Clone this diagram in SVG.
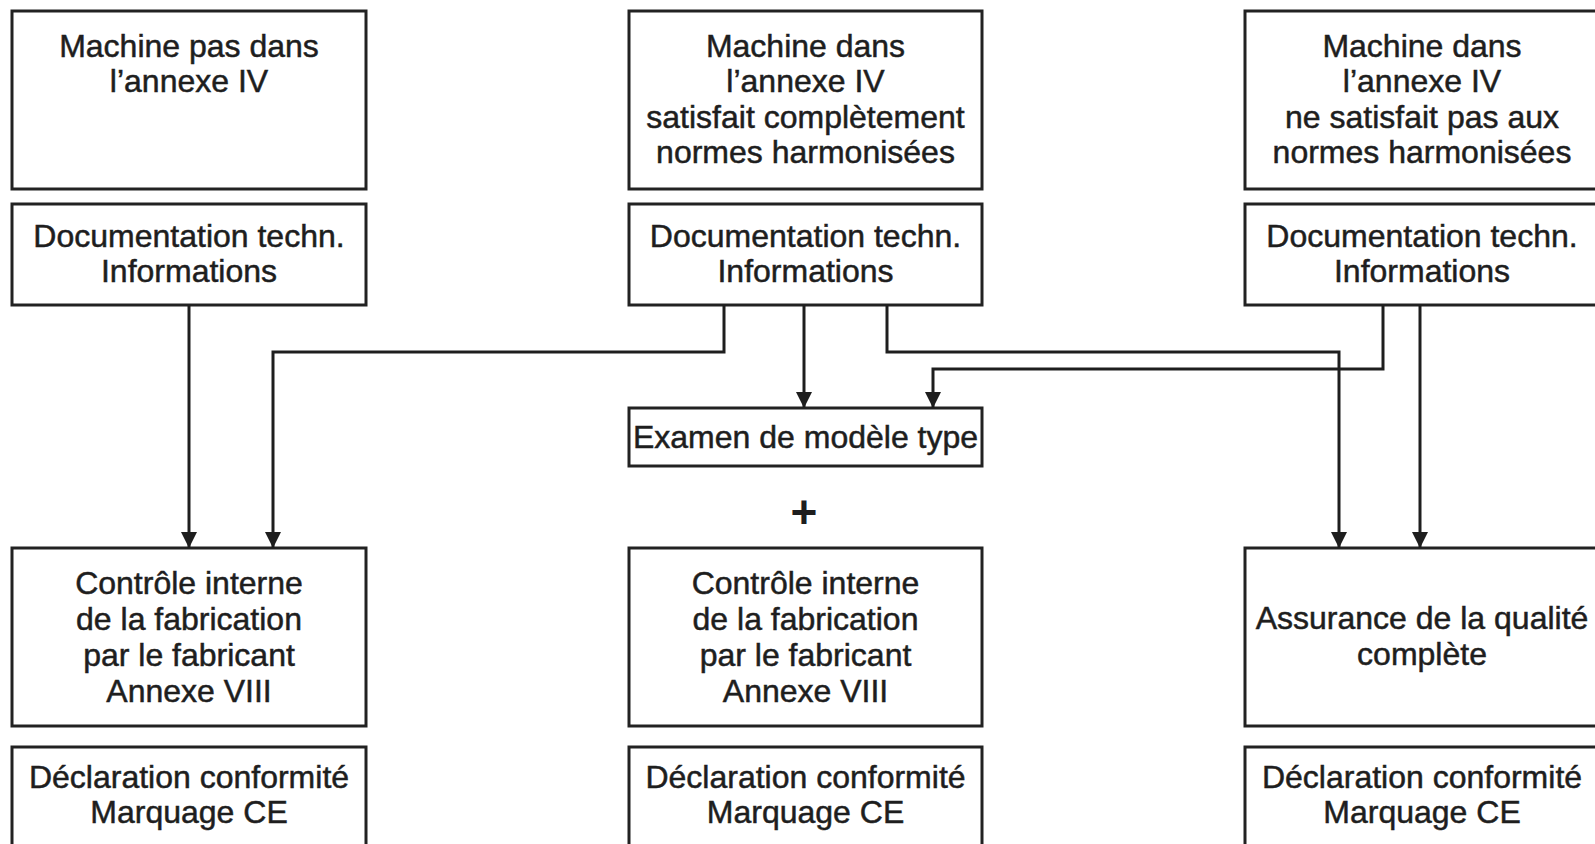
<svg xmlns="http://www.w3.org/2000/svg" width="1595" height="844" viewBox="0 0 1595 844">
  <defs>
    <style>
      .box { fill: #ffffff; stroke: #222222; stroke-width: 3; }
      .lbl { font-family: "Liberation Sans", Arial, Helvetica, sans-serif; font-size: 32px; fill: #1e1e1e; stroke: #1e1e1e; stroke-width: 0.5; text-anchor: middle; }
      .plus { font-family: "Liberation Sans", Arial, Helvetica, sans-serif; font-size: 46px; font-weight: bold; fill: #1e1e1e; text-anchor: middle; }
      .conn { fill: none; stroke: #1e1e1e; stroke-width: 3; marker-end: url(#arrow); }
    </style>
    <marker id="arrow" markerUnits="userSpaceOnUse" markerWidth="17" markerHeight="17" viewBox="0 0 17 17" refX="16" refY="8.5" orient="auto">
      <path d="M0,0.5 L16,8.5 L0,16.5 Z" fill="#1e1e1e"/>
    </marker>
  </defs>
  <rect x="0" y="0" width="1595" height="844" fill="#ffffff"/>

  <!-- Left column -->
  <g id="n_left_machine">
    <rect class="box" x="12" y="11" width="354" height="178"/>
    <text class="lbl" x="189" y="57">Machine pas dans</text>
    <text class="lbl" x="189" y="92">l’annexe IV</text>
  </g>
  <g id="n_left_doc">
    <rect class="box" x="12" y="204" width="354" height="101"/>
    <text class="lbl" x="189" y="247">Documentation techn.</text>
    <text class="lbl" x="189" y="282">Informations</text>
  </g>
  <g id="n_left_controle">
    <rect class="box" x="12" y="548" width="354" height="178"/>
    <text class="lbl" x="189" y="594">Contrôle interne</text>
    <text class="lbl" x="189" y="630">de la fabrication</text>
    <text class="lbl" x="189" y="666">par le fabricant</text>
    <text class="lbl" x="189" y="702">Annexe VIII</text>
  </g>
  <g id="n_left_decl">
    <rect class="box" x="12" y="747" width="354" height="105"/>
    <text class="lbl" x="189" y="788">Déclaration conformité</text>
    <text class="lbl" x="189" y="823">Marquage CE</text>
  </g>

  <!-- Middle column -->
  <g id="n_mid_machine">
    <rect class="box" x="629" y="11" width="353" height="178"/>
    <text class="lbl" x="805.5" y="57">Machine dans</text>
    <text class="lbl" x="805.5" y="92">l’annexe IV</text>
    <text class="lbl" x="805.5" y="128">satisfait complètement</text>
    <text class="lbl" x="805.5" y="163">normes harmonisées</text>
  </g>
  <g id="n_mid_doc">
    <rect class="box" x="629" y="204" width="353" height="101"/>
    <text class="lbl" x="805.5" y="247">Documentation techn.</text>
    <text class="lbl" x="805.5" y="282">Informations</text>
  </g>
  <g id="n_mid_examen">
    <rect class="box" x="629" y="408" width="353" height="58"/>
    <text class="lbl" x="805.5" y="448">Examen de modèle type</text>
  </g>
  <g id="n_mid_plus">
    <text class="plus" x="804" y="528">+</text>
  </g>
  <g id="n_mid_controle">
    <rect class="box" x="629" y="548" width="353" height="178"/>
    <text class="lbl" x="805.5" y="594">Contrôle interne</text>
    <text class="lbl" x="805.5" y="630">de la fabrication</text>
    <text class="lbl" x="805.5" y="666">par le fabricant</text>
    <text class="lbl" x="805.5" y="702">Annexe VIII</text>
  </g>
  <g id="n_mid_decl">
    <rect class="box" x="629" y="747" width="353" height="105"/>
    <text class="lbl" x="805.5" y="788">Déclaration conformité</text>
    <text class="lbl" x="805.5" y="823">Marquage CE</text>
  </g>

  <!-- Right column -->
  <g id="n_right_machine">
    <rect class="box" x="1245" y="11" width="354" height="178"/>
    <text class="lbl" x="1422" y="57">Machine dans</text>
    <text class="lbl" x="1422" y="92">l’annexe IV</text>
    <text class="lbl" x="1422" y="128">ne satisfait pas aux</text>
    <text class="lbl" x="1422" y="163">normes harmonisées</text>
  </g>
  <g id="n_right_doc">
    <rect class="box" x="1245" y="204" width="354" height="101"/>
    <text class="lbl" x="1422" y="247">Documentation techn.</text>
    <text class="lbl" x="1422" y="282">Informations</text>
  </g>
  <g id="n_right_assurance">
    <rect class="box" x="1245" y="548" width="354" height="178"/>
    <text class="lbl" x="1422" y="629">Assurance de la qualité</text>
    <text class="lbl" x="1422" y="665">complète</text>
  </g>
  <g id="n_right_decl">
    <rect class="box" x="1245" y="747" width="354" height="105"/>
    <text class="lbl" x="1422" y="788">Déclaration conformité</text>
    <text class="lbl" x="1422" y="823">Marquage CE</text>
  </g>

  <!-- Connectors -->
  <g id="connectors">
    <path class="conn" d="M189,305 L189,548"/>
    <path class="conn" d="M724,305 L724,352 L273,352 L273,548"/>
    <path class="conn" d="M804,305 L804,408"/>
    <path class="conn" d="M887,305 L887,352 L1339,352 L1339,548"/>
    <path class="conn" d="M1383,305 L1383,369 L933,369 L933,408"/>
    <path class="conn" d="M1420,305 L1420,548"/>
  </g>
</svg>
